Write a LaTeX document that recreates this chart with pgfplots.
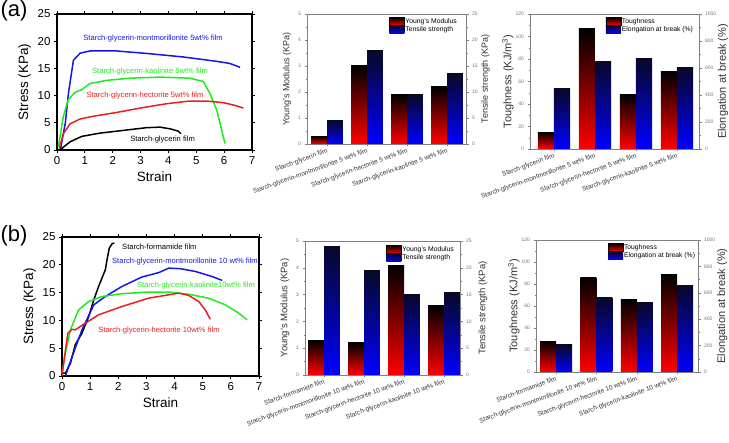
\documentclass[border=0pt]{standalone}
\usepackage{fontspec}
\setmainfont{Liberation Sans}
\usepackage{pgfplots}
\pgfplotsset{compat=1.18}
\definecolor{cblue}{RGB}{20,20,235}
\definecolor{cgreen}{RGB}{30,235,30}
\definecolor{cred}{RGB}{235,30,30}
\definecolor{navy}{RGB}{8,8,40}
\definecolor{axgray}{RGB}{128,128,128}
\newcommand{\fs}[1]{\fontsize{#1}{#1}\selectfont}
\pgfplotsset{
 linechart/.style={
  scale only axis, clip=false,
  xmin=0, xmax=7, ymin=0, ymax=25,
  xtick={0,1,...,7}, ytick={0,5,...,25},
  axis line style={line width=1.5pt},
  tick align=outside, major tick length=3pt,
  tick style={black, line width=0.8pt},
  tick label style={font=\fs{11.5}},
  label style={font=\fs{13.5}},
  xlabel={Strain}, ylabel={Stress (KPa)},
  /pgf/number format/assume math mode=true,
 },
 curve/.style={line width=1.5pt, mark=none},
 barbase/.style={
  scale only axis, ymin=0,
  axis line style={axgray, line width=0.5pt},
  tick align=outside, major tick length=2.5pt, minor tick length=1.5pt,
  tick style={axgray, line width=0.4pt},
  yticklabel style={font=\fs{5}, text=black!55},
  /pgf/number format/assume math mode=true,
  /pgf/number format/1000 sep={},
  label style={text=black!80},
 },
 barleft/.style={barbase, xtick={1,2,3,4}, xtick pos=bottom, ytick pos=left, minor y tick num=1,
  xticklabel style={rotate=20, anchor=north east, font=\fs{6.5}, text=black!80, inner sep=1pt},
 },
 barright/.style={barbase, axis y line*=right, axis x line=none, minor y tick num=1},
 redbar/.style={ybar, draw=none, top color=black, bottom color=red, bar width=#1, bar shift=-0.5*#1},
 bluebar/.style={ybar, draw=none, top color=navy, bottom color=blue, bar width=#1, bar shift=0.5*#1},
 redleg/.style={legend image code/.code={\shade[top color=black,bottom color=red] (0pt,-4pt) rectangle (15pt,4pt);}},
 blueleg/.style={legend image code/.code={\shade[top color=navy,bottom color=blue] (0pt,-4pt) rectangle (15pt,4pt);}},
 barlegend/.style={legend cell align=left, legend style={draw=none, fill=none, inner sep=0pt, row sep=0pt, font=\fs{6.8}, at={(#1)}, anchor=north west, nodes={inner sep=0.8pt, text height=5pt, text depth=1.5pt}}},
}
\begin{document}
\begin{tikzpicture}
\useasboundingbox (0,0) rectangle (729pt,443pt);
\node[font=\fs{22}] at (14pt,432pt) {(a)};
\node[font=\fs{22}] at (14pt,207pt) {(b)};

% ---------- (a) stress-strain ----------
\begin{axis}[linechart, at={(57pt,293pt)}, anchor=south west, width=195pt, height=136pt]
\addplot[curve, cblue] coordinates {(0.12,0) (0.3,5) (0.41,10.4) (0.59,16.5) (0.83,17.8) (1.18,18.2) (2.14,18.2) (3.33,17.7) (4.53,17.1) (5.73,16.3) (6.21,15.9) (6.57,15.2)};
\addplot[curve, cgreen] coordinates {(0.05,0.6) (0.23,6.2) (0.41,9.3) (0.65,10.6) (0.89,11.1) (1.18,12.2) (1.78,12.8) (2.62,13.2) (3.7,13.4) (4.77,13.2) (5.25,12.6) (5.49,10.4) (5.73,7.4) (5.91,3.7) (6.03,1.2)};
\addplot[curve, cred] coordinates {(0.08,0.3) (0.23,3.0) (0.47,4.8) (0.83,5.7) (1.3,6.2) (2.14,6.9) (3.09,7.8) (3.93,8.5) (4.77,9.0) (5.37,9.0) (5.97,8.7) (6.39,8.2) (6.69,7.7)};
\addplot[curve, black] coordinates {(0.1,0) (0.47,1.5) (0.89,2.5) (1.54,3.1) (2.38,3.6) (3.21,4.1) (3.69,4.2) (4.05,3.9) (4.34,3.5) (4.45,3.0)};
\node[font=\fs{7.6}, text=cblue] at (axis cs:3.45,20.4) {Starch-glycerin-montmorillonite 5wt\% film};
\node[font=\fs{7.6}, text=cgreen] at (axis cs:3.34,14.5) {Starch-glycerin-kaolinite 5wt\% film};
\node[font=\fs{7.6}, text=cred] at (axis cs:3.16,10.1) {Starch-glycerin-hectorite 5wt\% film};
\node[font=\fs{7.6}, text=black] at (axis cs:3.79,1.84) {Starch-glycerin film};
\end{axis}

% ---------- (a) YM / tensile ----------
\begin{axis}[barleft, at={(307pt,299pt)}, anchor=south west, width=159pt, height=130pt,
  xmin=0.5, xmax=4.475, ymax=5, ytick={0,1,...,5},
  ylabel={Young's Modulus (KPa)}, ylabel style={font=\fs{9}},
  xticklabels={Starch-glycerin film, Starch-glycerin-montmorillonite 5 wt\% film, Starch-glycerin-hectorite 5 wt\% film, Starch-glycerin-kaolinite 5 wt\% film}]
\addplot[redbar=15.8pt] coordinates {(1,0.3)};
\addplot[redbar=15.8pt] coordinates {(2,3.0)};
\addplot[redbar=15.8pt] coordinates {(3,1.9)};
\addplot[redbar=15.8pt] coordinates {(4,2.2)};
\end{axis}
\begin{axis}[barright, at={(307pt,299pt)}, anchor=south west, width=159pt, height=130pt,
  xmin=0.5, xmax=4.475, ymax=25, ytick={0,5,...,25},
  ylabel={Tensile strength (KPa)}, ylabel style={font=\fs{9}}, ylabel shift=-3pt,
  barlegend={0.516,0.977}]
\addlegendimage{redleg}\addlegendentry{Young's Modulus}
\addplot[bluebar=15.8pt, blueleg] coordinates {(1,4.5)};
\addlegendentry{Tensile strength}
\addplot[bluebar=15.8pt, forget plot] coordinates {(2,18)};
\addplot[bluebar=15.8pt, forget plot] coordinates {(3,9.5)};
\addplot[bluebar=15.8pt, forget plot] coordinates {(4,13.5)};
\end{axis}

% ---------- (a) toughness / elongation ----------
\begin{axis}[barleft, at={(530pt,294pt)}, anchor=south west, width=169pt, height=135pt,
  xmin=0.415, xmax=4.537, ymax=120, ytick={0,20,...,120},
  ylabel={Toughness (KJ/m\textsuperscript{3})}, ylabel style={font=\fs{11}}, ylabel shift=-5pt,
  xticklabels={Starch-glycerin film, Starch-glycerin-montmorillonite 5 wt\% film, Starch-glycerin-hectorite 5 wt\% film, Starch-glycerin-kaolinite 5 wt\% film}]
\addplot[redbar=16.2pt] coordinates {(1,15)};
\addplot[redbar=16.2pt] coordinates {(2,107)};
\addplot[redbar=16.2pt] coordinates {(3,48)};
\addplot[redbar=16.2pt] coordinates {(4,69)};
\end{axis}
\begin{axis}[barright, at={(530pt,294pt)}, anchor=south west, width=169pt, height=135pt,
  xmin=0.415, xmax=4.537, ymax=1000, ytick={0,200,...,1000},
  ylabel={Elongation at break (\%)}, ylabel style={font=\fs{11}}, ylabel shift=-5pt,
  barlegend={0.447,0.978}]
\addlegendimage{redleg}\addlegendentry{Toughness}
\addplot[bluebar=16.2pt, blueleg] coordinates {(1,446)};
\addlegendentry{Elongation at break (\%)}
\addplot[bluebar=16.2pt, forget plot] coordinates {(2,650)};
\addplot[bluebar=16.2pt, forget plot] coordinates {(3,667)};
\addplot[bluebar=16.2pt, forget plot] coordinates {(4,604)};
\end{axis}

% ---------- (b) stress-strain ----------
\begin{axis}[linechart, at={(62pt,67pt)}, anchor=south west, width=197pt, height=139pt]
\addplot[curve, black] coordinates {(0,0.5) (0.12,0.5) (0.3,2.3) (0.47,5.6) (0.71,7.7) (0.95,10.7) (1.13,13.7) (1.3,16.1) (1.54,19.1) (1.6,20.9) (1.68,23) (1.78,23.8) (1.86,23.9)};
\addplot[curve, cblue] coordinates {(0.12,0) (0.36,3.5) (0.71,8.3) (1.13,12.8) (1.54,14.3) (2.13,16.1) (2.84,17.8) (3.44,18.6) (3.79,19.4) (4.21,19.3) (4.74,18.8) (5.33,17.9) (5.69,17.2)};
\addplot[curve, cgreen] coordinates {(0,0.5) (0.12,4.1) (0.3,8.3) (0.59,11.9) (0.95,13.4) (1.42,14.3) (2.13,14.8) (3.08,15.1) (3.79,15.1) (4.5,14.7) (5.21,14) (5.8,12.8) (6.28,11.3) (6.58,10.1)};
\addplot[curve, cred] coordinates {(0,0) (0.09,3.5) (0.21,7.7) (0.36,8.4) (0.47,8.3) (0.83,9.5) (1.3,11) (2.13,12.5) (3.08,14) (3.79,14.6) (4.15,14.9) (4.5,14.5) (4.86,13.4) (5.09,11.9) (5.27,10.2)};
\node[font=\fs{7.6}, text=black] at (axis cs:3.46,23.2) {Starch-formamide film};
\node[font=\fs{7.6}, text=cblue] at (axis cs:4.37,20.5) {Starch-glycerin-montmorillonite 10 wt\% film};
\node[font=\fs{7.6}, text=cgreen] at (axis cs:4.76,16.2) {Starch-glycerin-kaolinite10wt\% film};
\node[font=\fs{7.6}, text=cred] at (axis cs:3.45,8.1) {Starch-glycerin-hectorite 10wt\% film};
\end{axis}

% ---------- (b) YM / tensile ----------
\begin{axis}[barleft, at={(305pt,68pt)}, anchor=south west, width=155pt, height=134pt,
  xmin=0.525, xmax=4.4, ymax=5, ytick={0,1,...,5},
  ylabel={Young's Modulus (KPa)}, ylabel style={font=\fs{9.5}},
  xticklabels={Starch-formamide film, Starch-glycerin-montmorillonite 10 wt\% film, Starch-glycerin-hectorite 10 wt\% film, Starch-glycerin-kaolinite 10 wt\% film}]
\addplot[redbar=15.8pt] coordinates {(1,1.3)};
\addplot[redbar=15.8pt] coordinates {(2,1.2)};
\addplot[redbar=15.8pt] coordinates {(3,4.1)};
\addplot[redbar=15.8pt] coordinates {(4,2.6)};
\end{axis}
\begin{axis}[barright, at={(305pt,68pt)}, anchor=south west, width=155pt, height=134pt,
  xmin=0.525, xmax=4.4, ymax=25, ytick={0,5,...,25},
  ylabel={Tensile strength (KPa)}, ylabel style={font=\fs{9.5}},
  barlegend={0.523,0.970}]
\addlegendimage{redleg}\addlegendentry{Young's Modulus}
\addplot[bluebar=15.8pt, blueleg] coordinates {(1,24)};
\addlegendentry{Tensile strength}
\addplot[bluebar=15.8pt, forget plot] coordinates {(2,19.5)};
\addplot[bluebar=15.8pt, forget plot] coordinates {(3,15)};
\addplot[bluebar=15.8pt, forget plot] coordinates {(4,15.3)};
\end{axis}

% ---------- (b) toughness / elongation ----------
\begin{axis}[barleft, at={(536pt,71pt)}, anchor=south west, width=162pt, height=132pt,
  xmin=0.5, xmax=4.517, ymax=120, ytick={0,20,...,120},
  ylabel={Toughness (KJ/m\textsuperscript{3})}, ylabel style={font=\fs{11}}, ylabel shift=-5pt,
  xticklabels={Starch-formamide film, Starch-glycerin-montmorillonite 10 wt\% film, Starch-glycerin-hectorite 10 wt\% film, Starch-glycerin-kaolinite 10 wt\% film}]
\addplot[redbar=16pt] coordinates {(1,28)};
\addplot[redbar=16pt] coordinates {(2,86)};
\addplot[redbar=16pt] coordinates {(3,66)};
\addplot[redbar=16pt] coordinates {(4,89)};
\end{axis}
\begin{axis}[barright, at={(536pt,71pt)}, anchor=south west, width=162pt, height=132pt,
  xmin=0.5, xmax=4.517, ymax=1000, ytick={0,200,...,1000},
  ylabel={Elongation at break (\%)}, ylabel style={font=\fs{11}}, ylabel shift=-5pt,
  barlegend={0.442,0.977}]
\addlegendimage{redleg}\addlegendentry{Toughness}
\addplot[bluebar=16pt, blueleg] coordinates {(1,208)};
\addlegendentry{Elongation at break (\%)}
\addplot[bluebar=16pt, forget plot] coordinates {(2,562)};
\addplot[bluebar=16pt, forget plot] coordinates {(3,529)};
\addplot[bluebar=16pt, forget plot] coordinates {(4,658)};
\end{axis}
\end{tikzpicture}
\end{document}
